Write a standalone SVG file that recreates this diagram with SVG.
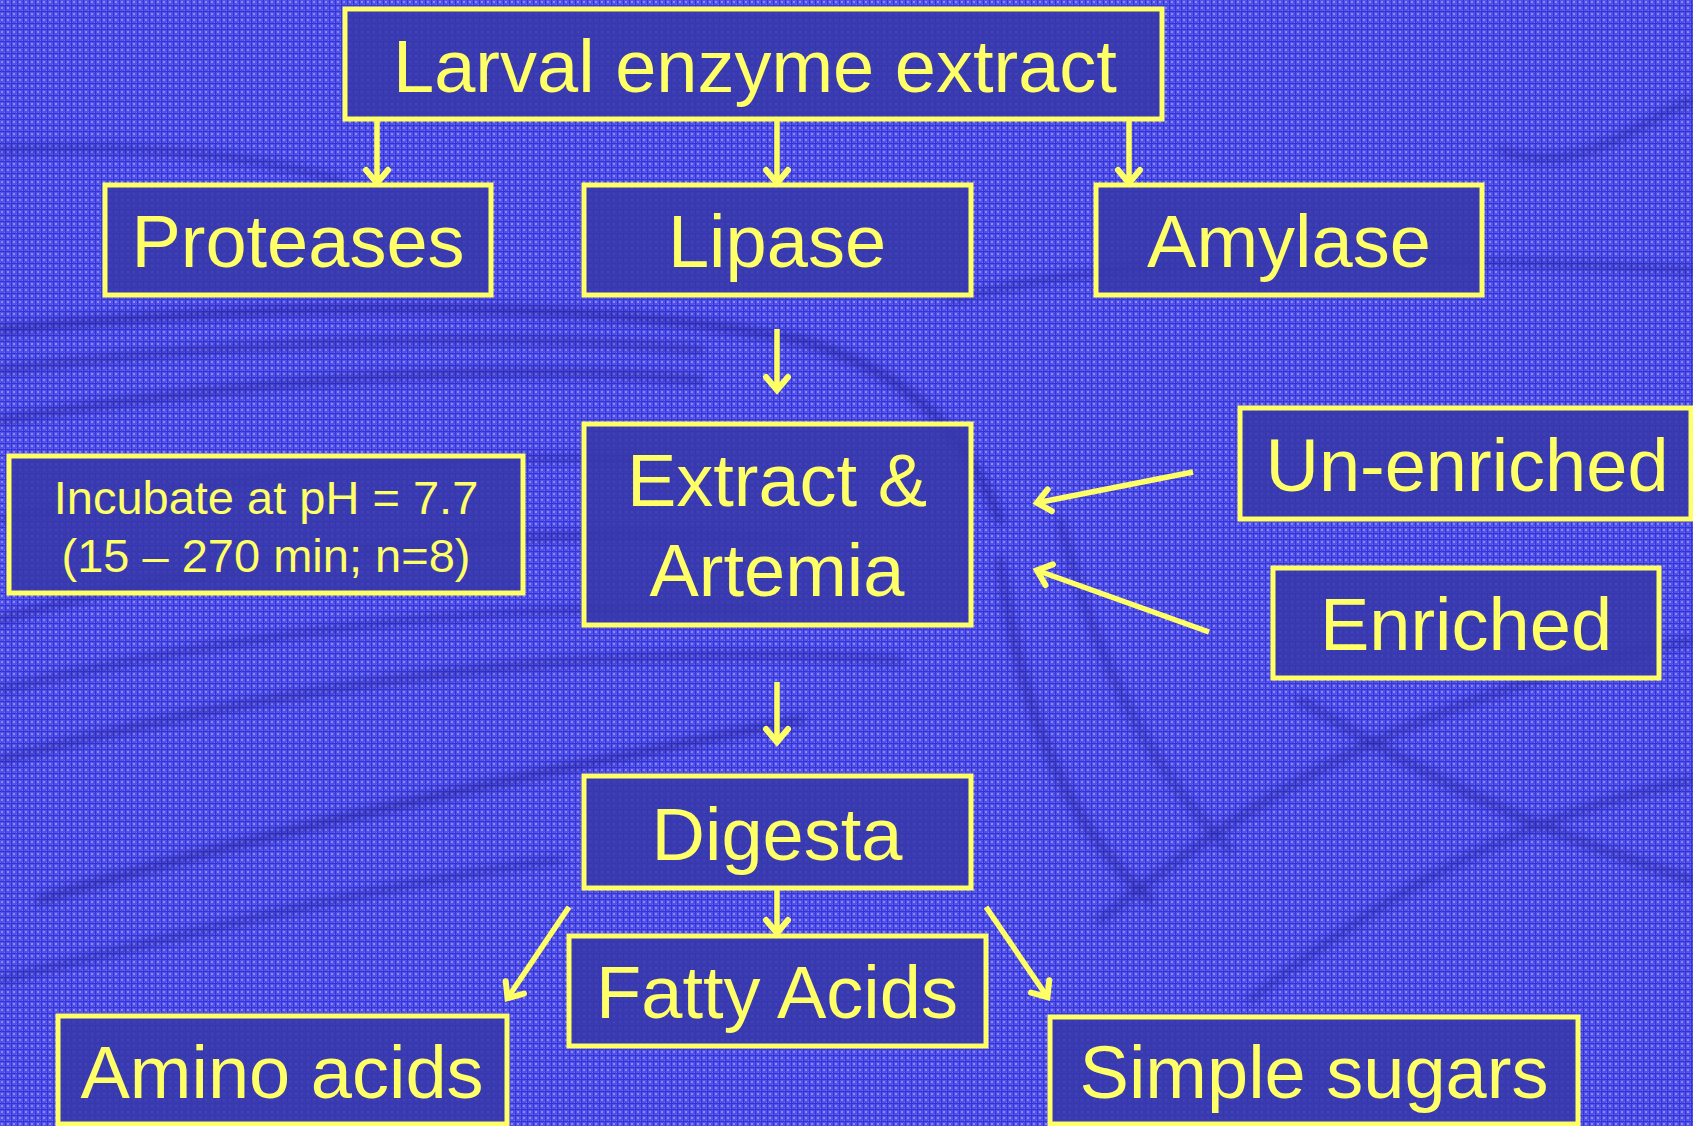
<svg xmlns="http://www.w3.org/2000/svg" width="1693" height="1126" viewBox="0 0 1693 1126">
  <style>
    .box { fill: #3838aa; fill-opacity: 0.88; stroke: #ffff66; stroke-width: 5; }
    .lbl { fill: #ffff66; font-family: "Liberation Sans", Arial, sans-serif; font-size: 74px; text-anchor: middle; }
    .small { font-size: 47px; }
    .conn { stroke: #ffff66; stroke-width: 5.5; fill: none; marker-end: url(#arr); }
    .streak { fill: none; stroke: #1a1a90; stroke-linecap: round; }
  </style>
  <defs>
    <marker id="arr" markerUnits="userSpaceOnUse" viewBox="-20 -15 24 30" refX="0" refY="0" markerWidth="24" markerHeight="30" orient="auto">
      <path d="M-14,-11 L-1,0 L-14,11" fill="none" stroke="#ffff66" stroke-width="6" stroke-linecap="round" stroke-linejoin="miter"/>
    </marker>
    <pattern id="tex" width="6" height="6" patternUnits="userSpaceOnUse">
      <rect width="6" height="6" fill="#5252e4"/>
      <rect x="1" y="1" width="2" height="2" fill="#8888fc"/>
      <rect x="4" y="4" width="1" height="1" fill="#7474f4"/>
      <rect x="0" y="5" width="6" height="1" fill="#3434dc"/>
      <rect x="5" y="0" width="1" height="6" fill="#3434dc"/>
    </pattern>
    <filter id="blur" x="-10%" y="-10%" width="120%" height="120%">
      <feGaussianBlur stdDeviation="4"/>
    </filter>
  </defs>

  <rect width="1693" height="1126" fill="url(#tex)"/>
  <g id="background-streaks" filter="url(#blur)" opacity="0.5">
    <path class="streak" stroke-width="10" d="M0,330 C300,300 600,300 800,340 C900,370 960,420 1000,520"/>
    <path class="streak" stroke-width="7" d="M0,370 C250,340 500,330 700,350"/>
    <path class="streak" stroke-width="8" d="M0,420 C250,380 500,360 700,380"/>
    <path class="streak" stroke-width="6" d="M0,520 C200,480 450,450 650,460"/>
    <path class="streak" stroke-width="8" d="M0,620 C200,560 500,520 800,540"/>
    <path class="streak" stroke-width="6" d="M0,690 C250,630 500,600 760,610"/>
    <path class="streak" stroke-width="7" d="M0,760 C300,680 600,640 900,660"/>
    <path class="streak" stroke-width="9" d="M40,900 C300,820 600,760 800,720"/>
    <path class="streak" stroke-width="6" d="M0,980 C200,930 400,880 560,860"/>
    <path class="streak" stroke-width="8" d="M1000,560 C1020,700 1060,820 1150,900"/>
    <path class="streak" stroke-width="6" d="M1060,520 C1090,640 1140,760 1230,850"/>
    <path class="streak" stroke-width="7" d="M1300,700 C1400,760 1500,820 1693,880"/>
    <path class="streak" stroke-width="7" d="M1100,920 C1250,800 1400,700 1693,640"/>
    <path class="streak" stroke-width="6" d="M1250,1000 C1380,900 1500,820 1693,780"/>
    <path class="streak" stroke-width="6" d="M950,300 C1100,260 1300,250 1693,270"/>
    <path class="streak" stroke-width="6" d="M0,150 C200,140 300,170 340,180"/>
    <path class="streak" stroke-width="6" d="M1500,150 C1580,180 1640,120 1693,100"/>
  </g>

  <g id="connectors">
    <line class="conn" x1="377" y1="119" x2="377" y2="184"/>
    <line class="conn" x1="777" y1="119" x2="777" y2="184"/>
    <line class="conn" x1="1129" y1="119" x2="1129" y2="184"/>
    <line class="conn" x1="777" y1="329" x2="777" y2="391"/>
    <line class="conn" x1="1193" y1="472" x2="1036" y2="503"/>
    <line class="conn" x1="1209" y1="632" x2="1036" y2="570"/>
    <line class="conn" x1="777" y1="682" x2="777" y2="743"/>
    <line class="conn" x1="777" y1="888" x2="777" y2="934"/>
    <line class="conn" x1="569" y1="907" x2="507" y2="999"/>
    <line class="conn" x1="986" y1="907" x2="1048" y2="998"/>
  </g>

  <g id="larval-enzyme-extract">
    <rect class="box" x="345" y="9" width="817" height="110"/>
    <text class="lbl" x="755" y="92">Larval enzyme extract</text>
  </g>
  <g id="proteases">
    <rect class="box" x="105" y="185" width="386" height="110"/>
    <text class="lbl" x="298" y="267">Proteases</text>
  </g>
  <g id="lipase">
    <rect class="box" x="584" y="185" width="387" height="110"/>
    <text class="lbl" x="777" y="267">Lipase</text>
  </g>
  <g id="amylase">
    <rect class="box" x="1096" y="185" width="386" height="110"/>
    <text class="lbl" x="1289" y="267">Amylase</text>
  </g>
  <g id="incubate">
    <rect class="box" x="9" y="456" width="514" height="137"/>
    <text class="lbl small" x="266" y="514">Incubate at pH = 7.7</text>
    <text class="lbl small" x="266" y="572">(15 – 270 min; n=8)</text>
  </g>
  <g id="extract-artemia">
    <rect class="box" x="584" y="424" width="387" height="201"/>
    <text class="lbl" x="777" y="506">Extract &amp;</text>
    <text class="lbl" x="777" y="596">Artemia</text>
  </g>
  <g id="un-enriched">
    <rect class="box" x="1240" y="408" width="451" height="111"/>
    <text class="lbl" x="1467" y="491">Un-enriched</text>
  </g>
  <g id="enriched">
    <rect class="box" x="1273" y="568" width="386" height="110"/>
    <text class="lbl" x="1466" y="650">Enriched</text>
  </g>
  <g id="digesta">
    <rect class="box" x="584" y="776" width="387" height="112"/>
    <text class="lbl" x="777" y="860">Digesta</text>
  </g>
  <g id="fatty-acids">
    <rect class="box" x="569" y="936" width="417" height="110"/>
    <text class="lbl" x="777" y="1018">Fatty Acids</text>
  </g>
  <g id="amino-acids">
    <rect class="box" x="58" y="1016" width="449" height="108"/>
    <text class="lbl" x="282" y="1098">Amino acids</text>
  </g>
  <g id="simple-sugars">
    <rect class="box" x="1050" y="1017" width="528" height="107"/>
    <text class="lbl" x="1314" y="1098">Simple sugars</text>
  </g>
</svg>
